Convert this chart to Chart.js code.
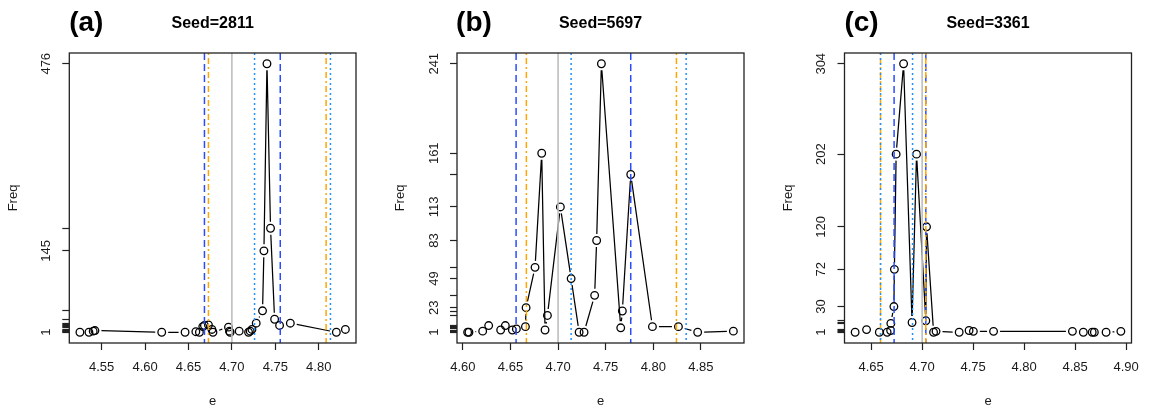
<!DOCTYPE html>
<html>
<head>
<meta charset="utf-8">
<script src="https://cdn.jsdelivr.net/npm/chart.js@4.4.1/dist/chart.umd.min.js"></script>
<style>
  html, body { margin: 0; padding: 0; background: #fff; }
  #wrap { position: relative; width: 1152px; height: 408px; }
  canvas { position: absolute; top: 0; }
</style>
</head>
<body>
<div id="wrap">
  <canvas id="pa" width="384" height="408" style="left:0px"></canvas>
  <canvas id="pb" width="384" height="408" style="left:384px"></canvas>
  <canvas id="pc" width="384" height="408" style="left:768px"></canvas>
</div>
<script>
// panel (a), seed 2811
const eA = [4.5250, 4.5354, 4.5403, 4.5423, 4.6192, 4.6461, 4.6585, 4.6626, 4.6665, 4.6684,
  4.6730, 4.6770, 4.6782, 4.6961, 4.6972, 4.6980, 4.7084, 4.7192, 4.7211, 4.7231,
  4.7280, 4.7353, 4.7369, 4.7404, 4.7445, 4.7492, 4.7549, 4.7673, 4.8203, 4.8307];
const freqA = [1, 1, 3, 4, 1, 1, 2, 1, 11, 13,
  14, 6, 1, 10, 3, 1, 3, 1, 3, 6,
  17, 39, 145, 476, 185, 24, 13, 17, 1, 6];
const dashedA = [4.6684, 4.7557];
const dotdashA = [4.6730, 4.8085];
const dottedA = [4.7261, 4.8135];
const xTicksA = [4.55, 4.60, 4.65, 4.70, 4.75, 4.80];
const yLabelsA = [1, 145, 476];

// panel (b), seed 5697
const eB = [4.6050, 4.6064, 4.6208, 4.6271, 4.6397, 4.6446, 4.6520, 4.6562, 4.6657, 4.6664,
  4.6758, 4.6828, 4.6863, 4.6888, 4.7024, 4.7137, 4.7221, 4.7273, 4.7384, 4.7405,
  4.7455, 4.7658, 4.7675, 4.7763, 4.7991, 4.8264, 4.8466, 4.8841];
const freqB = [1, 1, 2, 7, 3, 7, 3, 4, 6, 23,
  59, 161, 3, 16, 113, 49, 1, 1, 34, 83,
  241, 5, 20, 142, 6, 6, 1, 2];
const dashedB = [4.6559, 4.7763];
const dotdashB = [4.6667, 4.8243];
const dottedB = [4.7137, 4.8345];
const xTicksB = [4.60, 4.65, 4.70, 4.75, 4.80, 4.85];
const yLabelsB = [1, 23, 49, 83, 113, 161, 241];

// panel (c), seed 3361
const eC = [4.6343, 4.6455, 4.6580, 4.6657, 4.6691, 4.6693, 4.6723, 4.6728, 4.6745, 4.6818,
  4.6901, 4.6945, 4.7036, 4.7043, 4.7112, 4.7136, 4.7363, 4.7460, 4.7502, 4.7700,
  4.8473, 4.8580, 4.8667, 4.8688, 4.8803, 4.8948];
const freqC = [1, 4, 1, 1, 3, 11, 30, 72, 202, 304,
  12, 202, 14, 120, 1, 2, 1, 3, 2, 2,
  2, 1, 1, 1, 1, 2];
const dashedC = [4.6725, 4.7036];
const dotdashC = [4.6592, 4.7036];
const dottedC = [4.6592, 4.6906];
const xTicksC = [4.65, 4.70, 4.75, 4.80, 4.85, 4.90];
const yLabelsC = [1, 30, 72, 120, 202, 304];

const trueE = 4.70;

const FONT = "'Liberation Sans', Arial, Helvetica, sans-serif";
const INK = "#1a1a1a";
const GAP = 6.5; // R type="b" gap around points

// R style axis range: data range plus 4% each side
function rRange(v) {
  const lo = Math.min(...v), hi = Math.max(...v);
  const d = (hi - lo) * 0.04;
  return [lo - d, hi + d];
}

const rPlot = {
  id: "rPlot",
  beforeDatasetsDraw(chart) {
    // lines between points, broken near each point like type="b"
    const ctx = chart.ctx;
    const pts = chart.getDatasetMeta(0).data;
    ctx.save();
    ctx.strokeStyle = "#000";
    ctx.lineWidth = 1.25;
    ctx.beginPath();
    for (let i = 1; i < pts.length; i++) {
      const x0 = pts[i - 1].x, y0 = pts[i - 1].y, x1 = pts[i].x, y1 = pts[i].y;
      const d = Math.hypot(x1 - x0, y1 - y0);
      if (d <= 0) continue;
      const f = GAP / d;
      if (f >= 0.5) continue;
      ctx.moveTo(x0 + f * (x1 - x0), y0 + f * (y1 - y0));
      ctx.lineTo(x1 + f * (x0 - x1), y1 + f * (y0 - y1));
    }
    ctx.stroke();
    ctx.restore();
  },
  afterDatasetsDraw(chart, args, opts) {
    const ctx = chart.ctx;
    const area = chart.chartArea;
    const xs = chart.scales.x;
    ctx.save();
    ctx.beginPath();
    ctx.rect(area.left, area.top, area.right - area.left, area.bottom - area.top);
    ctx.clip();
    opts.vlines.forEach(g => {
      ctx.strokeStyle = g.color;
      ctx.lineWidth = g.width;
      ctx.setLineDash(g.dash);
      g.xs.forEach(v => {
        const px = xs.getPixelForValue(v);
        ctx.beginPath();
        ctx.moveTo(px, area.top);
        ctx.lineTo(px, area.bottom);
        ctx.stroke();
      });
    });
    ctx.restore();
  },
  afterDraw(chart, args, opts) {
    const ctx = chart.ctx;
    const area = chart.chartArea;
    const ys = chart.scales.y;
    ctx.save();
    // box
    ctx.strokeStyle = "#222";
    ctx.lineWidth = 1.3;
    ctx.strokeRect(area.left, area.top, area.right - area.left, area.bottom - area.top);
    // y tick labels, rotated like R las=0
    ctx.fillStyle = INK;
    ctx.font = "13px " + FONT;
    ctx.textAlign = "center";
    ctx.textBaseline = "alphabetic";
    opts.yLabels.forEach(v => {
      ctx.save();
      ctx.translate(area.left - 24, ys.getPixelForValue(v));
      ctx.rotate(-Math.PI / 2);
      ctx.fillText(String(v), 0, 4.6);
      ctx.restore();
    });
    // panel letter and title
    ctx.fillStyle = "#000";
    ctx.font = "bold 28px " + FONT;
    ctx.fillText(opts.letter, area.left + 17, 30.5);
    ctx.font = "bold 16px " + FONT;
    ctx.fillText(opts.title, (area.left + area.right) / 2, 28);
    ctx.restore();
  }
};

function makePanel(id, p) {
  const xr = rRange(p.e);
  const yr = rRange(p.freq);
  const yTicks = [...new Set(p.freq)].sort((a, b) => a - b);
  const vlines = [
    { xs: [trueE], color: "#bebebe", dash: [], width: 1.6 },
    { xs: p.dashed, color: "#2a4cff", dash: [7, 4], width: 1.5 },
    { xs: p.dotdash, color: "#ffa500", dash: [2, 3, 6, 3], width: 1.5 },
    { xs: p.dotted, color: "#1e90ff", dash: [2, 3], width: 1.5 }
  ];
  return new Chart(document.getElementById(id), {
    type: "scatter",
    data: {
      datasets: [{
        data: p.e.map((x, i) => ({ x: x, y: p.freq[i] })),
        showLine: false,
        pointStyle: "circle",
        pointRadius: 3.8,
        pointHoverRadius: 3.8,
        pointBorderWidth: 1.3,
        pointBorderColor: "#000",
        pointBackgroundColor: "rgba(0,0,0,0)"
      }]
    },
    options: {
      responsive: false,
      animation: false,
      events: [],
      layout: { padding: { left: p.box[0] - 64, right: 384 - p.box[1], top: 53, bottom: 0 } },
      plugins: {
        legend: { display: false },
        tooltip: { enabled: false },
        rPlot: { vlines: vlines, yLabels: p.yLabels, letter: p.letter, title: p.title }
      },
      scales: {
        x: {
          type: "linear",
          min: xr[0],
          max: xr[1],
          afterBuildTicks: s => { s.ticks = p.xTicks.map(v => ({ value: v })); },
          afterFit: s => { s.height = 65; },
          border: { display: false },
          grid: { drawOnChartArea: false, drawTicks: true, tickLength: 7, tickColor: "#222", tickWidth: 1.2 },
          ticks: {
            color: INK,
            font: { family: FONT, size: 13 },
            padding: 10,
            maxRotation: 0,
            minRotation: 0,
            callback: v => Number(v).toFixed(2)
          },
          title: { display: true, text: "e", color: INK, font: { family: FONT, size: 13 }, padding: { top: 0, bottom: -1.5 } }
        },
        y: {
          type: "linear",
          min: yr[0],
          max: yr[1],
          afterBuildTicks: s => { s.ticks = yTicks.map(v => ({ value: v })); },
          afterFit: s => { s.width = 64; },
          border: { display: false },
          grid: { drawOnChartArea: false, drawTicks: true, tickLength: 7, tickColor: "#222", tickWidth: 1.2 },
          ticks: { display: false },
          title: { display: true, text: "Freq", color: INK, font: { family: FONT, size: 13 }, padding: { top: 0, bottom: 0 } }
        }
      }
    },
    plugins: [rPlot]
  });
}

makePanel("pa", { e: eA, freq: freqA, dashed: dashedA, dotdash: dotdashA, dotted: dottedA,
  xTicks: xTicksA, yLabels: yLabelsA, letter: "(a)", title: "Seed=2811", box: [69.3, 356] });
makePanel("pb", { e: eB, freq: freqB, dashed: dashedB, dotdash: dotdashB, dotted: dottedB,
  xTicks: xTicksB, yLabels: yLabelsB, letter: "(b)", title: "Seed=5697", box: [73, 360] });
makePanel("pc", { e: eC, freq: freqC, dashed: dashedC, dotdash: dotdashC, dotted: dottedC,
  xTicks: xTicksC, yLabels: yLabelsC, letter: "(c)", title: "Seed=3361", box: [76.5, 363.5] });
</script>
</body>
</html>
